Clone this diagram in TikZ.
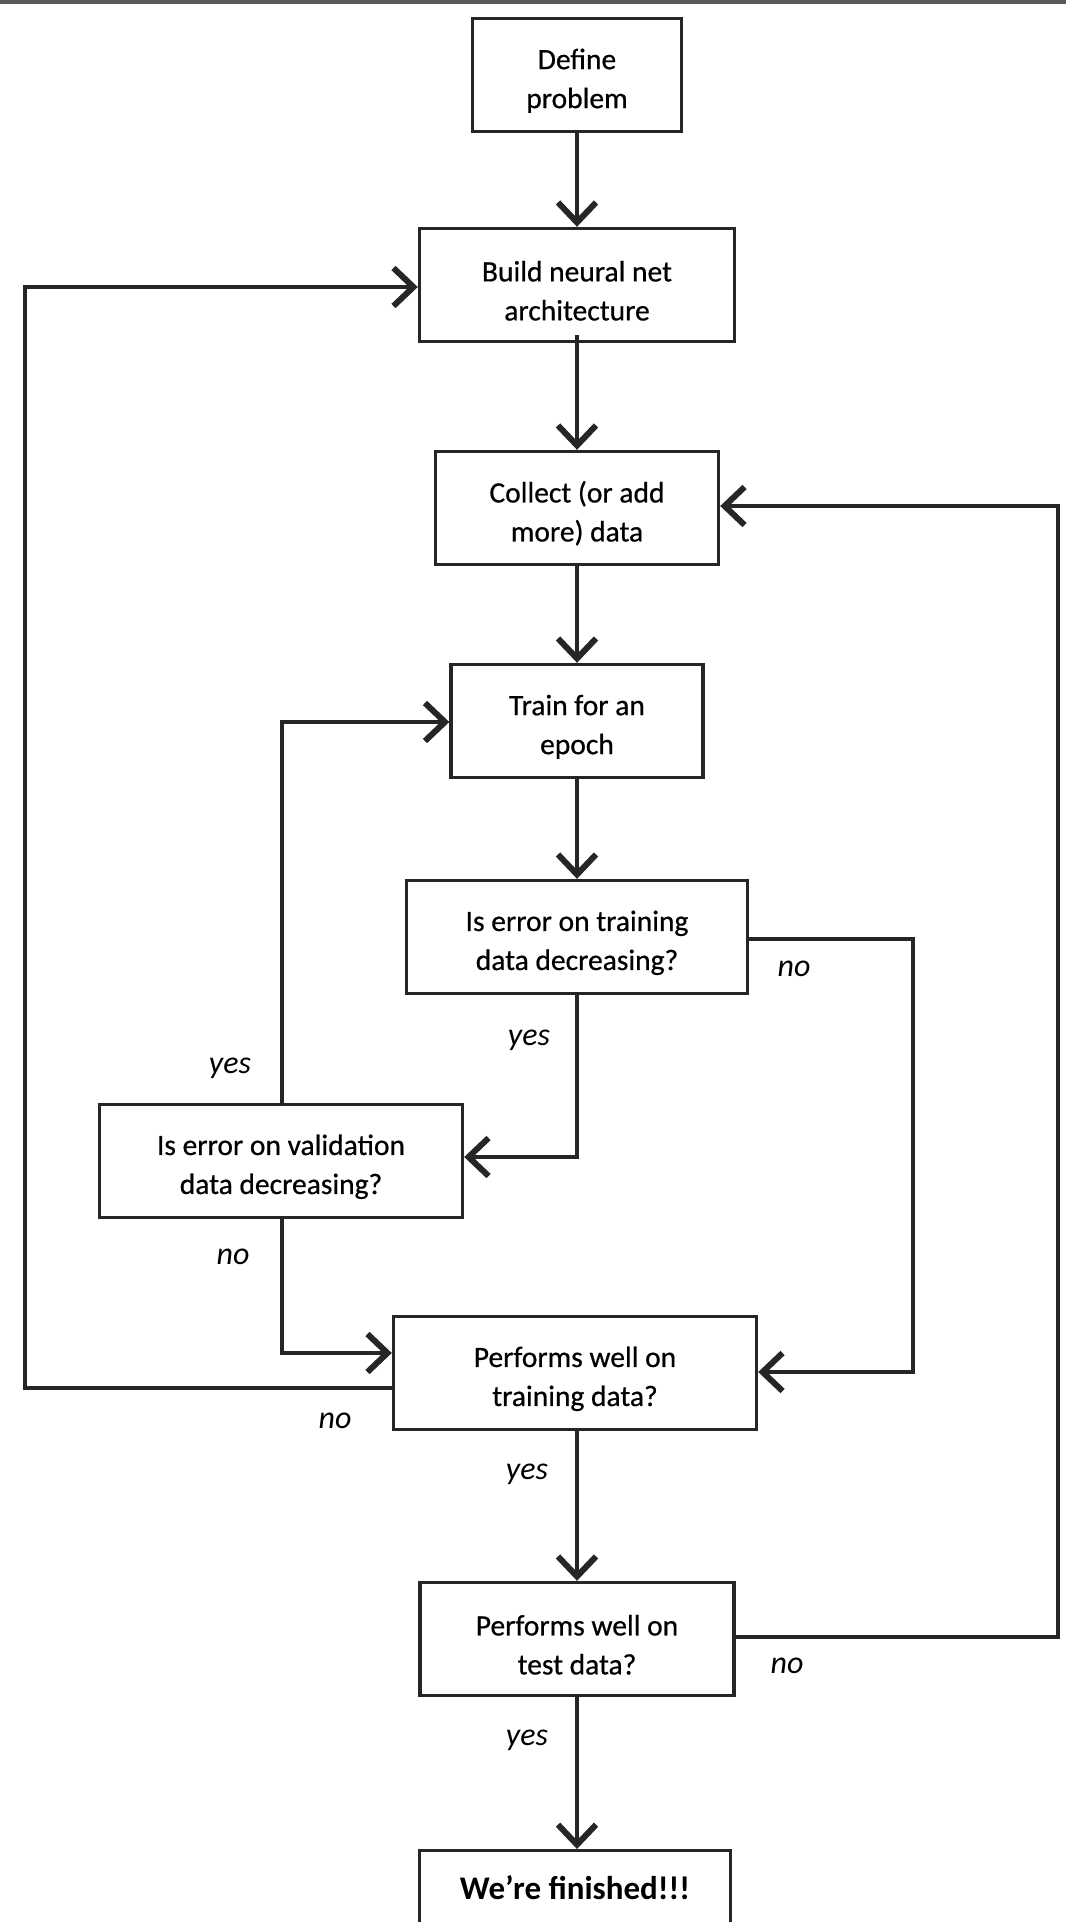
\documentclass[tikz,border=0pt]{standalone}
\usepackage{fontspec}
\setmainfont{Carlito}
\newfontfamily\boxfont{Carlito}[FakeBold=0.6]
\usetikzlibrary{arrows.meta}
\newcommand\tstrut{\rule{0pt}{32pt}}
\begin{document}
\begin{tikzpicture}[x=1pt,y=-1pt,
  box/.style={draw=black!85,line width=3.4pt,fill=white,align=center,inner sep=0pt,
    font=\boxfont\fontsize{29.5}{39}\selectfont,minimum height=113pt},
  conn/.style={line width=3.2pt,draw=black!85,-{Straight Barb[length=20pt,width=38pt,line width=6pt]}},
  lbl/.style={font=\fontsize{32}{36}\selectfont\itshape,inner sep=0pt}]
\useasboundingbox (0,0) rectangle (1066,1922);
\fill[black!65] (0,0) rectangle (1066,3.5);
\node[box,minimum width=209pt] (def) at (577,75) {\tstrut Define\\problem};
\node[box,minimum width=315pt] (build) at (577,285) {\tstrut Build neural net\\architecture};
\node[box,minimum width=283pt] (coll) at (577,508) {\tstrut Collect (or add\\more) data};
\node[box,minimum width=252pt] (train) at (577,721) {\tstrut Train for an\\epoch};
\node[box,minimum width=341pt] (istr) at (577,937) {\tstrut Is error on training\\data decreasing?};
\node[box,minimum width=363pt] (isval) at (281,1161) {\tstrut Is error on validation\\data decreasing?};
\node[box,minimum width=363pt] (ptr) at (575,1373) {\tstrut Performs well on\\training data?};
\node[box,minimum width=314pt] (pte) at (577,1639) {\tstrut Performs well on\\test data?};
\node[box,minimum width=311pt,anchor=north,font=\fontsize{33}{39}\selectfont\bfseries] (fin) at (575,1849) {We’re finished!!!\\[0pt]\vphantom{X}};
\coordinate (c1) at (577,1157);
\coordinate (c2) at (913,939);
\coordinate (c3) at (913,1372);
\coordinate (c4) at (282,722);
\coordinate (c5) at (282,1353);
\coordinate (c6) at (25,1388);
\coordinate (c7) at (25,287);
\coordinate (c8) at (1058,1637);
\coordinate (c9) at (1058,506);
\draw[conn] (def.south) -- (build.north);
\draw[conn] ([yshift=8pt]build.south) -- (coll.north);
\draw[conn] (coll.south) -- (train.north);
\draw[conn] (train.south) -- (istr.north);
\draw[conn] (istr.south) -- (c1) -- (isval.east |- c1);
\draw[conn] (istr.east |- c2) -- (c2) -- (c3) -- (ptr.east |- c3);
\draw[conn] (isval.north -| c4) -- (c4) -- (train.west |- c4);
\draw[conn] (isval.south -| c5) -- (c5) -- (ptr.west |- c5);
\draw[conn] (ptr.west |- c6) -- (c6) -- (c7) -- (build.west |- c7);
\draw[conn] (ptr.south -| pte.north) -- (pte.north);
\draw[conn] (pte.east |- c8) -- (c8) -- (c9) -- (coll.east |- c9);
\draw[conn] (pte.south) -- (pte.south |- fin.north);
\node[lbl] (l1) at (529,1040) {yes};
\node[lbl] (l2) at (794,969) {no};
\node[lbl] (l3) at (230,1068) {yes};
\node[lbl] (l4) at (233,1257) {no};
\node[lbl] (l5) at (335,1421) {no};
\node[lbl] (l6) at (527,1474) {yes};
\node[lbl] (l7) at (787,1666) {no};
\node[lbl] (l8) at (527,1740) {yes};
\end{tikzpicture}
\end{document}
